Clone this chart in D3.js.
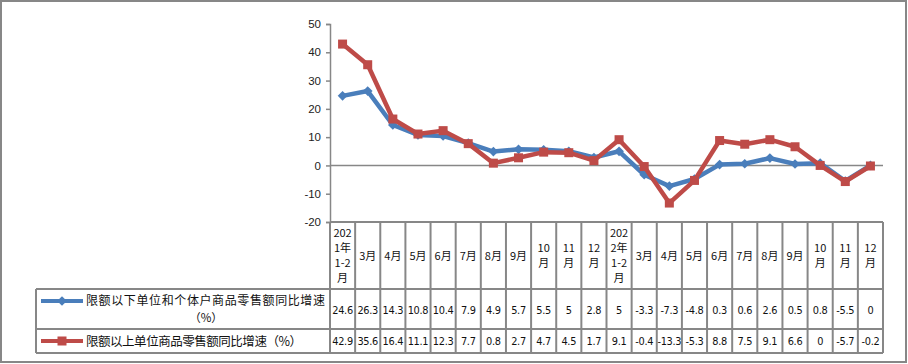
<!DOCTYPE html>
<html>
<head>
<meta charset="utf-8">
<script src="https://cdn.jsdelivr.net/npm/d3@7"></script>
<style>
  body { margin: 0; background: #fff; }
  svg { display: block; }
</style>
</head>
<body>
<svg id="chart" width="908" height="364"></svg>
<script>
// header labels already broken the way the table wraps them
var categories = [
  ["202","1年","1-2","月"], ["3月"], ["4月"], ["5月"], ["6月"], ["7月"], ["8月"], ["9月"],
  ["10","月"], ["11","月"], ["12","月"],
  ["202","2年","1-2","月"], ["3月"], ["4月"], ["5月"], ["6月"], ["7月"], ["8月"], ["9月"],
  ["10","月"], ["11","月"], ["12","月"]
];
var belowValues = [24.6, 26.3, 14.3, 10.8, 10.4, 7.9, 4.9, 5.7, 5.5, 5, 2.8, 5, -3.3, -7.3, -4.8, 0.3, 0.6, 2.6, 0.5, 0.8, -5.5, 0];
var aboveValues = [42.9, 35.6, 16.4, 11.1, 12.3, 7.7, 0.8, 2.7, 4.7, 4.5, 1.7, 9.1, -0.4, -13.3, -5.3, 8.8, 7.5, 9.1, 6.6, 0, -5.7, -0.2];
var yTicks = [50, 40, 30, 20, 10, 0, -10, -20];
var seriesNames = ["限额以下单位和个体户商品零售额同比增速", "限额以上单位商品零售额同比增速（%）"];

var svg = d3.select('#chart');
var grey = "#878787";
var blue = "#4a7ebb";
var red = "#be4b48";

// outer frame
svg.append('rect')
    .attr('x', 1).attr('y', 1).attr('width', 905).attr('height', 361)
    .attr('fill', 'none').attr('stroke', grey).attr('stroke-width', 2);

var idx = d3.range(categories.length);
var x = d3.scaleBand().domain(idx).range([330, 883]);
var y = d3.scaleLinear().domain([-20, 50]).range([222, 24]);

// y axis
var yAxis = svg.append('g')
    .attr('transform', 'translate(330,0)')
    .call(d3.axisLeft(y).tickValues(yTicks).tickSize(4).tickPadding(5).tickFormat(d => String(d)));
yAxis.select('.domain').attr('stroke', grey).attr('stroke-width', 1.5);
yAxis.selectAll('.tick line').attr('stroke', grey).attr('stroke-width', 1.5);
yAxis.selectAll('text')
    .attr('font-family', 'Liberation Sans, Arial, sans-serif')
    .attr('font-size', 11.5).attr('fill', '#222');

// zero line
svg.append('line')
    .attr('x1', 330).attr('x2', 883).attr('y1', y(0)).attr('y2', y(0))
    .attr('stroke', grey).attr('stroke-width', 1.5);

// table grid
var rowTop = y(-20), rowA = 289, rowB = 329, rowC = 353, legLeft = 36;
var grid = svg.append('g').attr('stroke', grey).attr('stroke-width', 2);
grid.append('line').attr('x1', 330).attr('x2', 883).attr('y1', rowTop).attr('y2', rowTop);
[rowA, rowB, rowC].forEach(function (yy) {
  grid.append('line').attr('x1', legLeft).attr('x2', 883).attr('y1', yy).attr('y2', yy);
});
grid.append('line').attr('x1', legLeft).attr('x2', legLeft).attr('y1', rowA).attr('y2', rowC);
d3.range(categories.length + 1).forEach(function (i) {
  var xx = 330 + i * x.bandwidth();
  grid.append('line').attr('x1', xx).attr('x2', xx).attr('y1', rowTop).attr('y2', rowC);
});

// header labels
var cjk = '"Noto Sans CJK SC", "Noto Sans", sans-serif';
var lh = 15;
svg.append('g').selectAll('text')
    .data(categories)
    .enter()
    .append('text')
    .attr('text-anchor', 'middle')
    .attr('font-family', cjk)
    .attr('font-size', 11)
    .attr('fill', '#111')
    .each(function (d, i) {
      var t = d3.select(this);
      var cx = x(i) + x.bandwidth() / 2;
      var mid = (rowTop + rowA) / 2;
      var start = mid - (d.length - 1) * lh / 2 + 4;
      d.forEach(function (line, k) {
        t.append('tspan').attr('x', cx).attr('y', start + k * lh).text(line);
      });
    });

// values in table
var numFont = '"DejaVu Sans", Verdana, sans-serif';
function valueRow(vals, yy) {
  svg.append('g').selectAll('text')
      .data(vals)
      .enter()
      .append('text')
      .attr('x', (d, i) => x(i) + x.bandwidth() / 2)
      .attr('y', yy)
      .attr('text-anchor', 'middle')
      .attr('font-family', numFont)
      .attr('font-size', 9.8)
      .attr('letter-spacing', -0.3)
      .attr('fill', '#111')
      .text(d => d);
}
valueRow(belowValues, 314);
valueRow(aboveValues, 344.5);

// lines
var line = d3.line()
    .x((d, i) => x(i) + x.bandwidth() / 2)
    .y(d => y(d));

svg.append('path').datum(belowValues)
    .attr('d', line).attr('fill', 'none')
    .attr('stroke', blue).attr('stroke-width', 4.5).attr('stroke-linejoin', 'round');
svg.append('g').selectAll('path')
    .data(belowValues)
    .enter()
    .append('path')
    .attr('d', d3.symbol().type(d3.symbolDiamond2).size(60))
    .attr('transform', (d, i) => 'translate(' + (x(i) + x.bandwidth() / 2) + ',' + y(d) + ')')
    .attr('fill', blue);

svg.append('path').datum(aboveValues)
    .attr('d', line).attr('fill', 'none')
    .attr('stroke', red).attr('stroke-width', 4.5).attr('stroke-linejoin', 'round');
svg.append('g').selectAll('rect')
    .data(aboveValues)
    .enter()
    .append('rect')
    .attr('x', (d, i) => x(i) + x.bandwidth() / 2 - 4.5)
    .attr('y', d => y(d) - 4.5)
    .attr('width', 9).attr('height', 9)
    .attr('fill', red);

// legend cells
var l1 = (rowA + rowB) / 2 - 8, l2 = (rowB + rowC) / 2;
svg.append('line').attr('x1', 41).attr('x2', 83).attr('y1', l1).attr('y2', l1)
    .attr('stroke', blue).attr('stroke-width', 4);
svg.append('path').attr('d', d3.symbol().type(d3.symbolDiamond2).size(60))
    .attr('transform', 'translate(62,' + l1 + ')').attr('fill', blue);
svg.append('line').attr('x1', 41).attr('x2', 83).attr('y1', l2).attr('y2', l2)
    .attr('stroke', red).attr('stroke-width', 4);
svg.append('rect').attr('x', 57.5).attr('y', l2 - 4.5).attr('width', 9).attr('height', 9)
    .attr('fill', red);

svg.append('text').attr('x', 86).attr('y', l1 + 4)
    .attr('font-family', cjk).attr('font-size', 12).attr('fill', '#111')
    .attr('textLength', 239).text(seriesNames[0]);
svg.append('text').attr('x', 206).attr('y', l1 + 20.5).attr('text-anchor', 'middle')
    .attr('font-family', cjk).attr('font-size', 11.5).attr('fill', '#111')
    .text('（%）');
svg.append('text').attr('x', 86).attr('y', l2 + 4.5)
    .attr('font-family', cjk).attr('font-size', 12.5).attr('fill', '#111')
    .attr('textLength', 216).text(seriesNames[1]);
</script>
</body>
</html>
